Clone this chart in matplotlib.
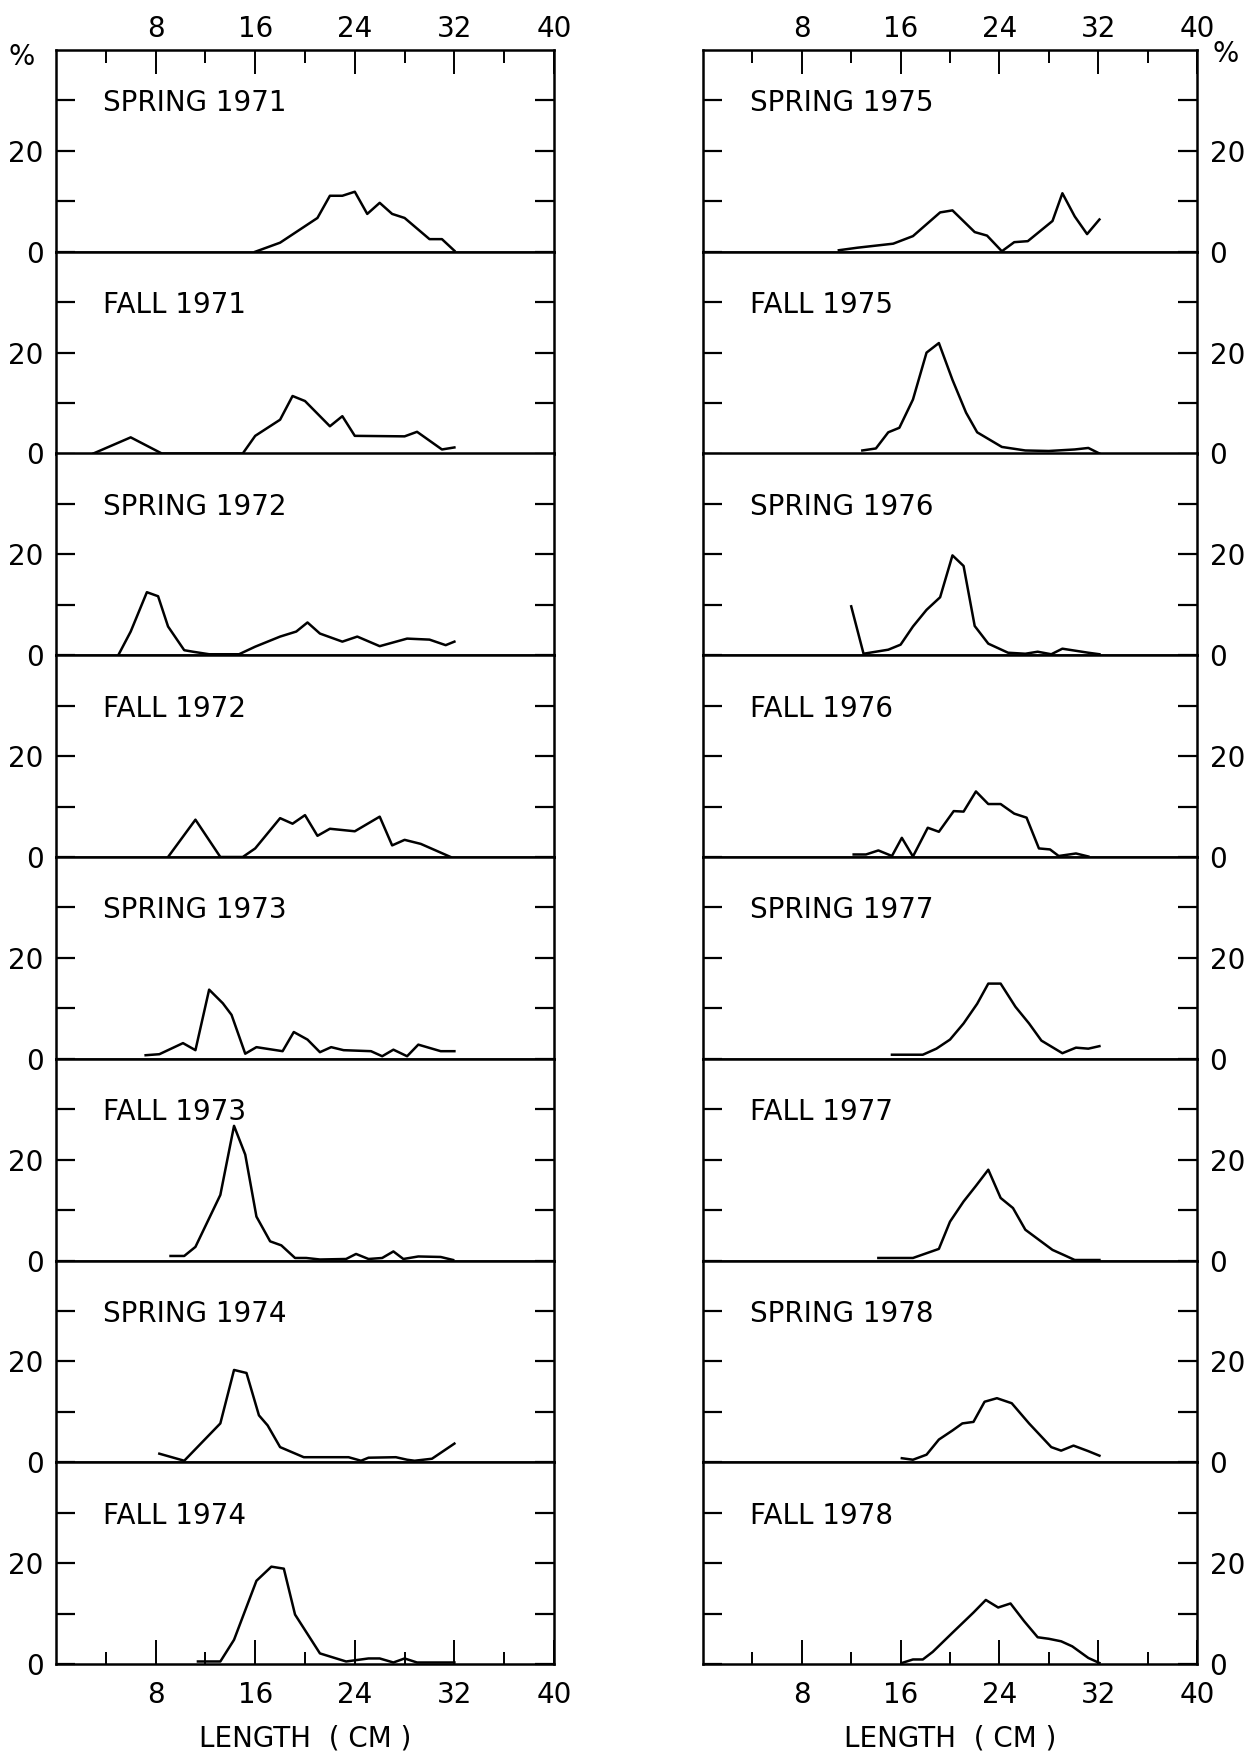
import matplotlib
matplotlib.use("Agg")
import matplotlib.pyplot as plt

# length-frequency distributions, % by length class (cm)
spring71_len = [16, 18, 21, 22, 23, 24, 25, 26, 27, 28, 30, 31, 32]
spring71_pct = [0, 1.8, 6.7, 11.1, 11.1, 11.9, 7.5, 9.7, 7.5, 6.7, 2.5, 2.5, 0.2]
fall71_len = [3, 6, 8.5, 15, 16, 18, 19, 20, 22, 23, 24, 28, 29, 31, 32]
fall71_pct = [0, 3.2, 0, 0, 3.5, 6.7, 11.4, 10.4, 5.4, 7.4, 3.5, 3.4, 4.3, 0.8, 1.2]
spring72_len = [5, 6, 7.3, 8.2, 9, 10.3, 11, 12.3, 14.7, 16, 18, 19.3, 20.2, 21.2, 23, 24.2, 26, 28.2, 30, 31.3, 32]
spring72_pct = [0, 4.7, 12.5, 11.7, 5.7, 1.0, 0.7, 0.2, 0.2, 1.7, 3.7, 4.7, 6.5, 4.3, 2.7, 3.7, 1.8, 3.3, 3.1, 2.0, 2.7]
fall72_len = [9, 11.2, 13.2, 15, 16, 18, 19, 20, 21, 22, 24, 26, 27, 28, 29.3, 31.7]
fall72_pct = [0, 7.4, 0, 0, 1.7, 7.7, 6.6, 8.3, 4.2, 5.6, 5.1, 8.0, 2.3, 3.4, 2.6, 0]
spring73_len = [7.2, 8.3, 10.2, 11.2, 12.3, 13.4, 14.1, 15.2, 16.1, 18.2, 19.1, 20.2, 21.2, 22.1, 23.1, 25.3, 26.2, 27.1, 28.2, 29.1, 30.9, 32]
spring73_pct = [0.7, 0.9, 3.1, 1.7, 13.7, 11.0, 8.7, 1.0, 2.3, 1.5, 5.3, 3.8, 1.3, 2.3, 1.7, 1.5, 0.5, 1.8, 0.5, 2.8, 1.5, 1.5]
fall73_len = [9.2, 10.3, 11.2, 13.2, 14.3, 15.2, 16.1, 17.2, 18.1, 19.2, 20.1, 21.2, 23.3, 24.1, 25.1, 26.2, 27.1, 27.9, 29.1, 30.9, 31.9]
fall73_pct = [0.9, 0.9, 2.7, 13.0, 26.7, 21.0, 8.7, 3.8, 3.0, 0.5, 0.5, 0.2, 0.3, 1.3, 0.3, 0.5, 1.8, 0.3, 0.8, 0.7, 0.1]
spring74_len = [8.3, 10.3, 13.2, 14.3, 15.3, 16.3, 17.0, 18.0, 19.9, 22.4, 23.5, 24.5, 25.1, 27.3, 28.2, 28.8, 30.2, 32.0]
spring74_pct = [1.7, 0.3, 7.7, 18.3, 17.7, 9.3, 7.3, 3.0, 1.0, 1.0, 1.0, 0.3, 0.9, 1.0, 0.5, 0.3, 0.7, 3.7]
fall74_len = [11.4, 13.2, 14.3, 16.1, 17.3, 18.3, 19.2, 21.2, 23.3, 25.1, 26.0, 27.1, 28.0, 29.0, 32.0]
fall74_pct = [0.5, 0.5, 4.8, 16.5, 19.3, 18.9, 9.8, 2.1, 0.5, 1.1, 1.1, 0.3, 1.1, 0.3, 0.3]

spring75_len = [11.0, 12.5, 15.4, 17.0, 19.2, 20.2, 22.0, 23.0, 24.2, 25.2, 26.3, 28.3, 29.1, 30.1, 31.1, 32.1]
spring75_pct = [0.3, 0.8, 1.6, 3.1, 7.8, 8.2, 3.9, 3.2, 0.1, 1.9, 2.1, 6.1, 11.6, 7.0, 3.5, 6.4]
fall75_len = [12.9, 14.0, 15.0, 15.9, 17.0, 18.1, 19.1, 20.2, 21.3, 22.2, 24.2, 26.1, 28.0, 30.1, 31.2, 32.1]
fall75_pct = [0.6, 1.0, 4.2, 5.1, 10.7, 20.0, 21.9, 14.6, 8.1, 4.2, 1.3, 0.6, 0.5, 0.8, 1.1, 0]
spring76_len = [12.0, 13.0, 14.0, 15.0, 16.0, 17.0, 18.1, 19.2, 20.2, 21.1, 22.0, 23.1, 24.7, 26.1, 27.1, 28.2, 29.1, 31.2, 32.1]
spring76_pct = [9.7, 0.3, 0.7, 1.1, 2.1, 5.7, 9.0, 11.5, 19.8, 17.7, 5.8, 2.3, 0.5, 0.3, 0.7, 0.2, 1.3, 0.5, 0.2]
fall76_len = [12.2, 13.2, 14.2, 15.3, 16.1, 17.0, 18.2, 19.1, 20.3, 21.1, 22.1, 23.1, 24.1, 25.2, 26.2, 27.2, 28.1, 28.8, 30.2, 31.2]
fall76_pct = [0.5, 0.5, 1.3, 0.2, 3.8, 0.1, 5.8, 5.0, 9.1, 9.0, 13.0, 10.5, 10.5, 8.6, 7.8, 1.7, 1.5, 0.2, 0.7, 0.1]
spring77_len = [15.3, 17.8, 18.9, 20.0, 21.1, 22.2, 23.1, 24.1, 25.3, 26.4, 27.4, 29.1, 30.2, 31.2, 32.1]
spring77_pct = [0.8, 0.8, 2.0, 3.8, 7.0, 10.9, 14.9, 14.9, 10.3, 7.0, 3.6, 1.1, 2.2, 2.0, 2.5]
fall77_len = [14.2, 17.0, 19.1, 20.0, 21.1, 22.1, 23.1, 24.1, 25.1, 26.1, 27.2, 28.3, 29.3, 30.1, 32.1]
fall77_pct = [0.5, 0.5, 2.3, 7.7, 11.7, 14.8, 18.0, 12.4, 10.4, 6.1, 4.1, 2.1, 1.0, 0.1, 0.1]
spring78_len = [16.1, 17.0, 18.1, 19.1, 20.2, 21.0, 21.9, 22.8, 23.8, 25.0, 26.4, 28.2, 29.0, 30.0, 31.2, 32.1]
spring78_pct = [0.8, 0.5, 1.5, 4.5, 6.3, 7.7, 8.0, 12.0, 12.7, 11.7, 7.7, 3.0, 2.3, 3.3, 2.2, 1.3]
fall78_len = [16.1, 17.0, 17.8, 18.6, 20.2, 21.9, 22.9, 23.9, 24.9, 26.0, 27.1, 28.0, 29.0, 29.9, 31.2, 32.1]
fall78_pct = [0.2, 0.9, 0.9, 2.4, 6.2, 10.2, 12.7, 11.2, 12.0, 8.5, 5.3, 5.0, 4.5, 3.5, 1.2, 0.2]

left_labels = ["SPRING 1971", "FALL 1971", "SPRING 1972", "FALL 1972",
               "SPRING 1973", "FALL 1973", "SPRING 1974", "FALL 1974"]
right_labels = ["SPRING 1975", "FALL 1975", "SPRING 1976", "FALL 1976",
                "SPRING 1977", "FALL 1977", "SPRING 1978", "FALL 1978"]
left_series = [(spring71_len, spring71_pct), (fall71_len, fall71_pct),
               (spring72_len, spring72_pct), (fall72_len, fall72_pct),
               (spring73_len, spring73_pct), (fall73_len, fall73_pct),
               (spring74_len, spring74_pct), (fall74_len, fall74_pct)]
right_series = [(spring75_len, spring75_pct), (fall75_len, fall75_pct),
                (spring76_len, spring76_pct), (fall76_len, fall76_pct),
                (spring77_len, spring77_pct), (fall77_len, fall77_pct),
                (spring78_len, spring78_pct), (fall78_len, fall78_pct)]

x_major = [8, 16, 24, 32, 40]
x_minor = [4, 12, 20, 28, 36]

plt.rcParams['font.family'] = ['DejaVu Sans']
FS = 20
LW = 1.8

W, H = 1253, 1754
fig = plt.figure(figsize=(W / 100, H / 100), dpi=100)

top = 1 - 50 / H
bottom = 1 - 1664 / H
ph = (top - bottom) / 8
columns = [(56 / W, 498 / W, left_labels, left_series, 'left'),
           (703 / W, 494 / W, right_labels, right_series, 'right')]

for x0, w, labels, series, side in columns:
    for r in range(8):
        ax = fig.add_axes([x0, top - (r + 1) * ph, w, ph])
        xs, ys = series[r]
        ax.plot(xs, ys, color='k', lw=LW, solid_joinstyle='round')
        ax.set_xlim(0, 40)
        ax.set_ylim(0, 40)
        for s in ax.spines.values():
            s.set_linewidth(LW)

        ax.set_yticks([0, 10, 20, 30])
        ax.set_yticklabels(['0', '', '20', ''])
        ax.tick_params(axis='y', direction='in', left=True, right=True,
                       length=14, width=1.6, labelsize=FS,
                       labelleft=(side == 'left'), labelright=(side == 'right'),
                       pad=9)

        ax.set_xticks(x_major)
        ax.set_xticks(x_minor, minor=True)
        ax.tick_params(axis='x', which='both', top=False, bottom=False,
                       labeltop=False, labelbottom=False)
        if r == 0:
            ax.tick_params(axis='x', which='both', direction='in', top=True,
                           labeltop=True, width=1.4, labelsize=FS, pad=5)
            ax.tick_params(axis='x', which='major', length=17)
            ax.tick_params(axis='x', which='minor', length=9)
        if r == 7:
            ax.tick_params(axis='x', which='both', direction='in', bottom=True,
                           labelbottom=True, width=1.4, labelsize=FS, pad=12)
            ax.tick_params(axis='x', which='major', length=17)
            ax.tick_params(axis='x', which='minor', length=9)

        ax.text(3.8, 29.4, labels[r], fontsize=FS, ha='left', va='center')

    fig.text(x0 + w / 2, 1 - 1738 / H, "LENGTH  ( CM )", fontsize=FS,
             ha='center', va='center')

fig.text(22 / W, 1 - 57 / H, "%", fontsize=FS, ha='center', va='center')
fig.text(1226 / W, 1 - 54 / H, "%", fontsize=FS, ha='center', va='center')

fig.savefig("out.png", dpi=100, facecolor='white')
